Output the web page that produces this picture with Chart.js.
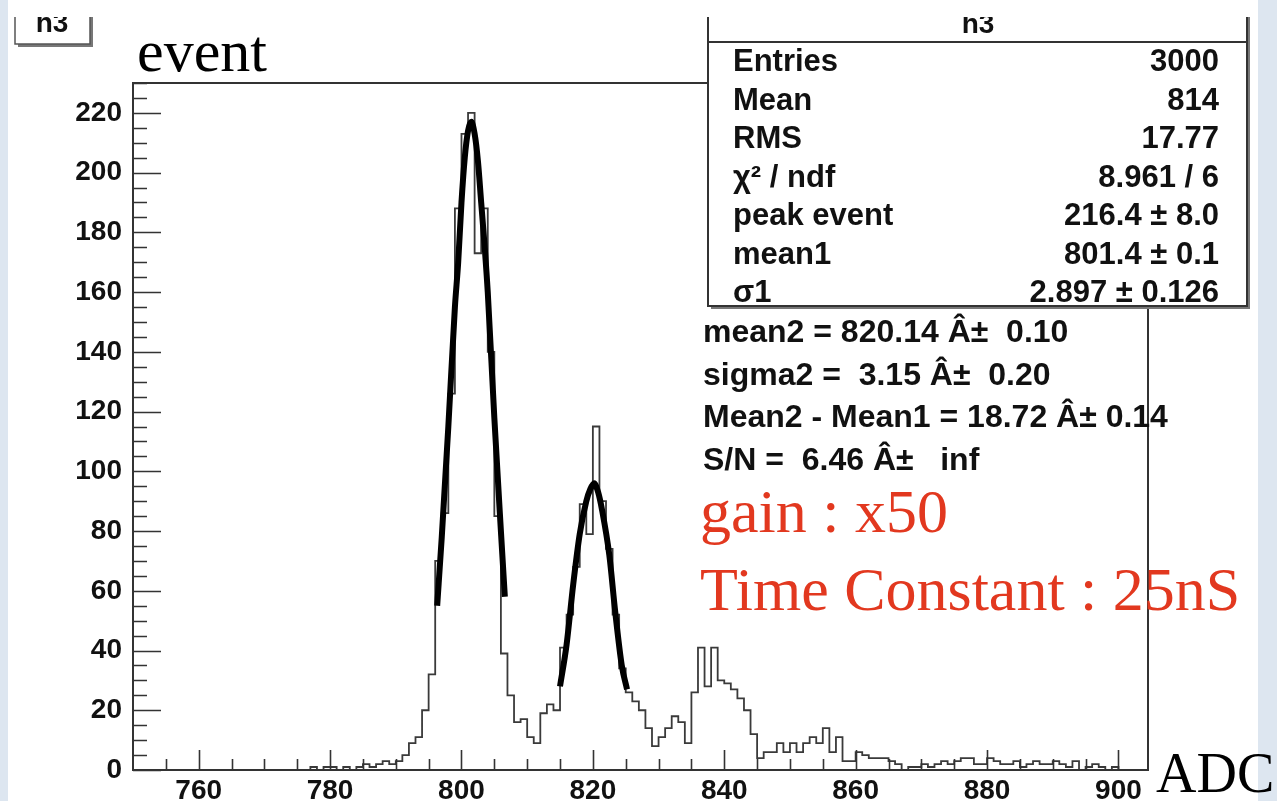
<!DOCTYPE html>
<html>
<head>
<meta charset="utf-8">
<script src="https://cdn.jsdelivr.net/npm/chart.js@4.4.0/dist/chart.umd.min.js"></script>
<style>
html, body { margin: 0; padding: 0; background: #dde6f0; }
#wrap { width: 1277px; height: 801px; }
</style>
</head>
<body>
<div id="wrap"><canvas id="h3" width="1277" height="801"></canvas></div>
<script>
// histogram h3 : one bin per ADC count, first bin starts at 750
var firstBin = 750;
var counts = [
  0, 0, 0, 0, 0, 0, 0, 0, 0, 0,            // 750-759
  0, 0, 0, 0, 0, 0, 0, 0, 0, 0,            // 760-769
  0, 0, 0, 0, 0, 0, 0, 1, 0, 1,            // 770-779
  1, 0, 1, 0, 1, 2, 1, 2, 3, 2,            // 780-789
  3, 5, 9, 11, 20, 32, 70, 86, 126, 188,   // 790-799
  213, 220, 173, 188, 140, 85, 39, 25, 16, 17, // 800-809
  11, 9, 19, 22, 20, 41, 52, 68, 89, 79,   // 810-819
  115, 90, 74, 52, 34, 26, 23, 20, 14, 8,  // 820-829
  11, 14, 18, 16, 9, 26, 41, 28, 41, 30,   // 830-839
  29, 27, 24, 20, 12, 4, 6, 6, 9, 6,       // 840-849
  9, 6, 9, 11, 9, 14, 6, 11, 3, 3,         // 850-859
  6, 5, 4, 4, 4, 3, 2, 0, 1, 1,            // 860-869
  2, 1, 2, 3, 2, 3, 4, 4, 2, 2,            // 870-879
  4, 3, 2, 2, 3, 1, 2, 3, 2, 2,            // 880-889
  3, 2, 1, 3, 0, 1, 2, 1, 0, 1,            // 890-899
  0, 0, 0, 0, 0                            // 900-904
];

// gaussian fits as drawn on the picture
var fit1X = [796.3, 797, 798, 799, 799.5, 800, 800.5, 801, 801.5, 802, 802.5, 803, 803.5, 804, 805, 806, 806.6];
var fit1Y = [55, 78, 115, 155, 170, 190, 205, 214, 217, 213, 204, 190, 176, 160, 118, 80, 58];
var fit2X = [815.0, 816, 817, 818, 819, 819.6, 820.2, 820.8, 821.4, 822.5, 823.4, 824.4, 825.2];
var fit2Y = [28, 42, 62, 79, 90, 94, 96, 93, 87, 72, 53, 35, 27];

var xTicks = [760, 780, 800, 820, 840, 860, 880, 900];
var yTicks = [0, 20, 40, 60, 80, 100, 120, 140, 160, 180, 200, 220];

var statNames = ['Entries', 'Mean', 'RMS', 'χ² / ndf', 'peak event', 'mean1', 'σ1'];
var statValues = ['3000', '814', '17.77', '8.961 / 6', '216.4 ± 8.0', '801.4 ± 0.1', '2.897 ± 0.126'];
var fitLines = ['mean2 = 820.14 Â±  0.10', 'sigma2 =  3.15 Â±  0.20', 'Mean2 - Mean1 = 18.72 Â± 0.14', 'S/N =  6.46 Â±   inf'];
var notes = ['gain : x50', 'Time Constant : 25nS'];

var SANS = '"Liberation Sans", Arial, Helvetica, sans-serif';
var SERIF = '"Liberation Serif", "Times New Roman", serif';

var hist = counts.map(function (c, i) { return { x: firstBin + i, y: c }; });
hist.push({ x: firstBin + counts.length, y: 0 });
var fit1 = fit1X.map(function (x, i) { return { x: x, y: fit1Y[i] }; });
var fit2 = fit2X.map(function (x, i) { return { x: x, y: fit2Y[i] }; });

var rootStyle = {
  id: 'rootStyle',
  beforeDraw: function (chart) {
    var c = chart.ctx;
    c.save();
    c.fillStyle = '#dde6f0';
    c.fillRect(0, 0, chart.width, chart.height);
    c.fillStyle = '#ffffff';
    c.fillRect(8, 0, 1250, chart.height);
    c.restore();
  },
  afterDatasetsDraw: function (chart) {
    var c = chart.ctx, a = chart.chartArea;
    var xs = chart.scales.x, ys = chart.scales.y;
    c.save();
    c.strokeStyle = '#333';
    c.lineWidth = 2;
    c.strokeRect(a.left, a.top, a.right - a.left, a.bottom - a.top);
    c.lineWidth = 1.6;
    c.beginPath();
    // y ticks, inward
    for (var v = 0; v <= 230; v += 5) {
      var py = Math.round(ys.getPixelForValue(v)) + 0.5;
      var len = (v % 20 === 0) ? 28 : 14;
      c.moveTo(a.left, py);
      c.lineTo(a.left + len, py);
    }
    // x ticks, inward
    for (var u = 755; u <= 900; u += 5) {
      var px = Math.round(xs.getPixelForValue(u)) + 0.5;
      var l2 = (u % 20 === 0) ? 20 : 11;
      c.moveTo(px, a.bottom);
      c.lineTo(px, a.bottom - l2);
    }
    c.stroke();
    c.restore();
  },
  afterDraw: function (chart) {
    var c = chart.ctx;
    c.save();
    // fit result lines
    c.fillStyle = '#111';
    c.font = 'bold 32px ' + SANS;
    c.textAlign = 'left';
    c.textBaseline = 'alphabetic';
    for (var i = 0; i < fitLines.length; i++) {
      c.fillText(fitLines[i], 703, 342 + i * 42.5);
    }
    // gain / time constant
    c.fillStyle = '#e2381f';
    c.font = '62px ' + SERIF;
    c.fillText(notes[0], 700, 532);
    c.fillText(notes[1], 700, 610);

    // stats box
    c.fillStyle = '#777';
    c.fillRect(711, 0, 539, 309);
    c.fillStyle = '#fff';
    c.fillRect(708, -4, 539, 310);
    c.strokeStyle = '#333';
    c.lineWidth = 2;
    c.strokeRect(708, -4, 539, 310);
    c.beginPath();
    c.moveTo(708, 42);
    c.lineTo(1247, 42);
    c.stroke();
    c.fillStyle = '#111';
    c.font = 'bold 28px ' + SANS;
    c.textAlign = 'center';
    c.fillText('h3', 978, 33);
    c.font = 'bold 31px ' + SANS;
    for (var j = 0; j < statNames.length; j++) {
      var by = 71 + j * 38.5;
      c.textAlign = 'left';
      c.fillText(statNames[j], 733, by);
      c.textAlign = 'right';
      c.fillText(statValues[j], 1219, by);
    }

    // h3 label box
    c.fillStyle = '#777';
    c.fillRect(18, 0, 75, 47);
    c.fillStyle = '#fff';
    c.fillRect(15, -4, 75, 48);
    c.strokeStyle = '#555';
    c.lineWidth = 1.5;
    c.strokeRect(15, -4, 75, 48);
    c.fillStyle = '#111';
    c.font = 'bold 28px ' + SANS;
    c.textAlign = 'center';
    c.fillText('h3', 52, 32);

    // white strip along the top edge
    c.fillStyle = '#fff';
    c.fillRect(8, 0, 1250, 17);

    // axis titles
    c.fillStyle = '#000';
    c.font = '60px ' + SERIF;
    c.textAlign = 'left';
    c.fillText('event', 137, 71);
    c.font = '56px ' + SERIF;
    c.fillText('ADC', 1156, 792);
    c.restore();
  }
};

var tickFont = { family: SANS, size: 28, weight: 'bold' };

new Chart(document.getElementById('h3').getContext('2d'), {
  type: 'line',
  data: {
    datasets: [
      { label: 'fit1', data: fit1, borderColor: '#000', borderWidth: 6, pointRadius: 0, cubicInterpolationMode: 'monotone', order: 0 },
      { label: 'fit2', data: fit2, borderColor: '#000', borderWidth: 6, pointRadius: 0, cubicInterpolationMode: 'monotone', order: 0 },
      { label: 'h3', data: hist, stepped: true, borderColor: '#3a3a3a', borderWidth: 1.8, pointRadius: 0, order: 1 }
    ]
  },
  options: {
    responsive: false,
    animation: false,
    devicePixelRatio: 1,
    layout: { padding: { left: 10, right: 129, top: 83, bottom: 0 } },
    plugins: { legend: { display: false }, tooltip: { enabled: false } },
    scales: {
      x: {
        type: 'linear', min: 750, max: 904.5,
        grid: { display: false, drawTicks: false },
        border: { display: false },
        afterBuildTicks: function (s) { s.ticks = xTicks.map(function (v) { return { value: v }; }); },
        afterFit: function (s) { s.height = 31; },
        ticks: { font: tickFont, color: '#111', padding: 4, maxRotation: 0, autoSkip: false }
      },
      y: {
        type: 'linear', min: 0, max: 230,
        grid: { display: false, drawTicks: false },
        border: { display: false },
        afterBuildTicks: function (s) { s.ticks = yTicks.map(function (v) { return { value: v }; }); },
        afterFit: function (s) { s.width = 123; },
        ticks: { font: tickFont, color: '#111', padding: 11, autoSkip: false }
      }
    }
  },
  plugins: [rootStyle]
});
</script>
</body>
</html>
